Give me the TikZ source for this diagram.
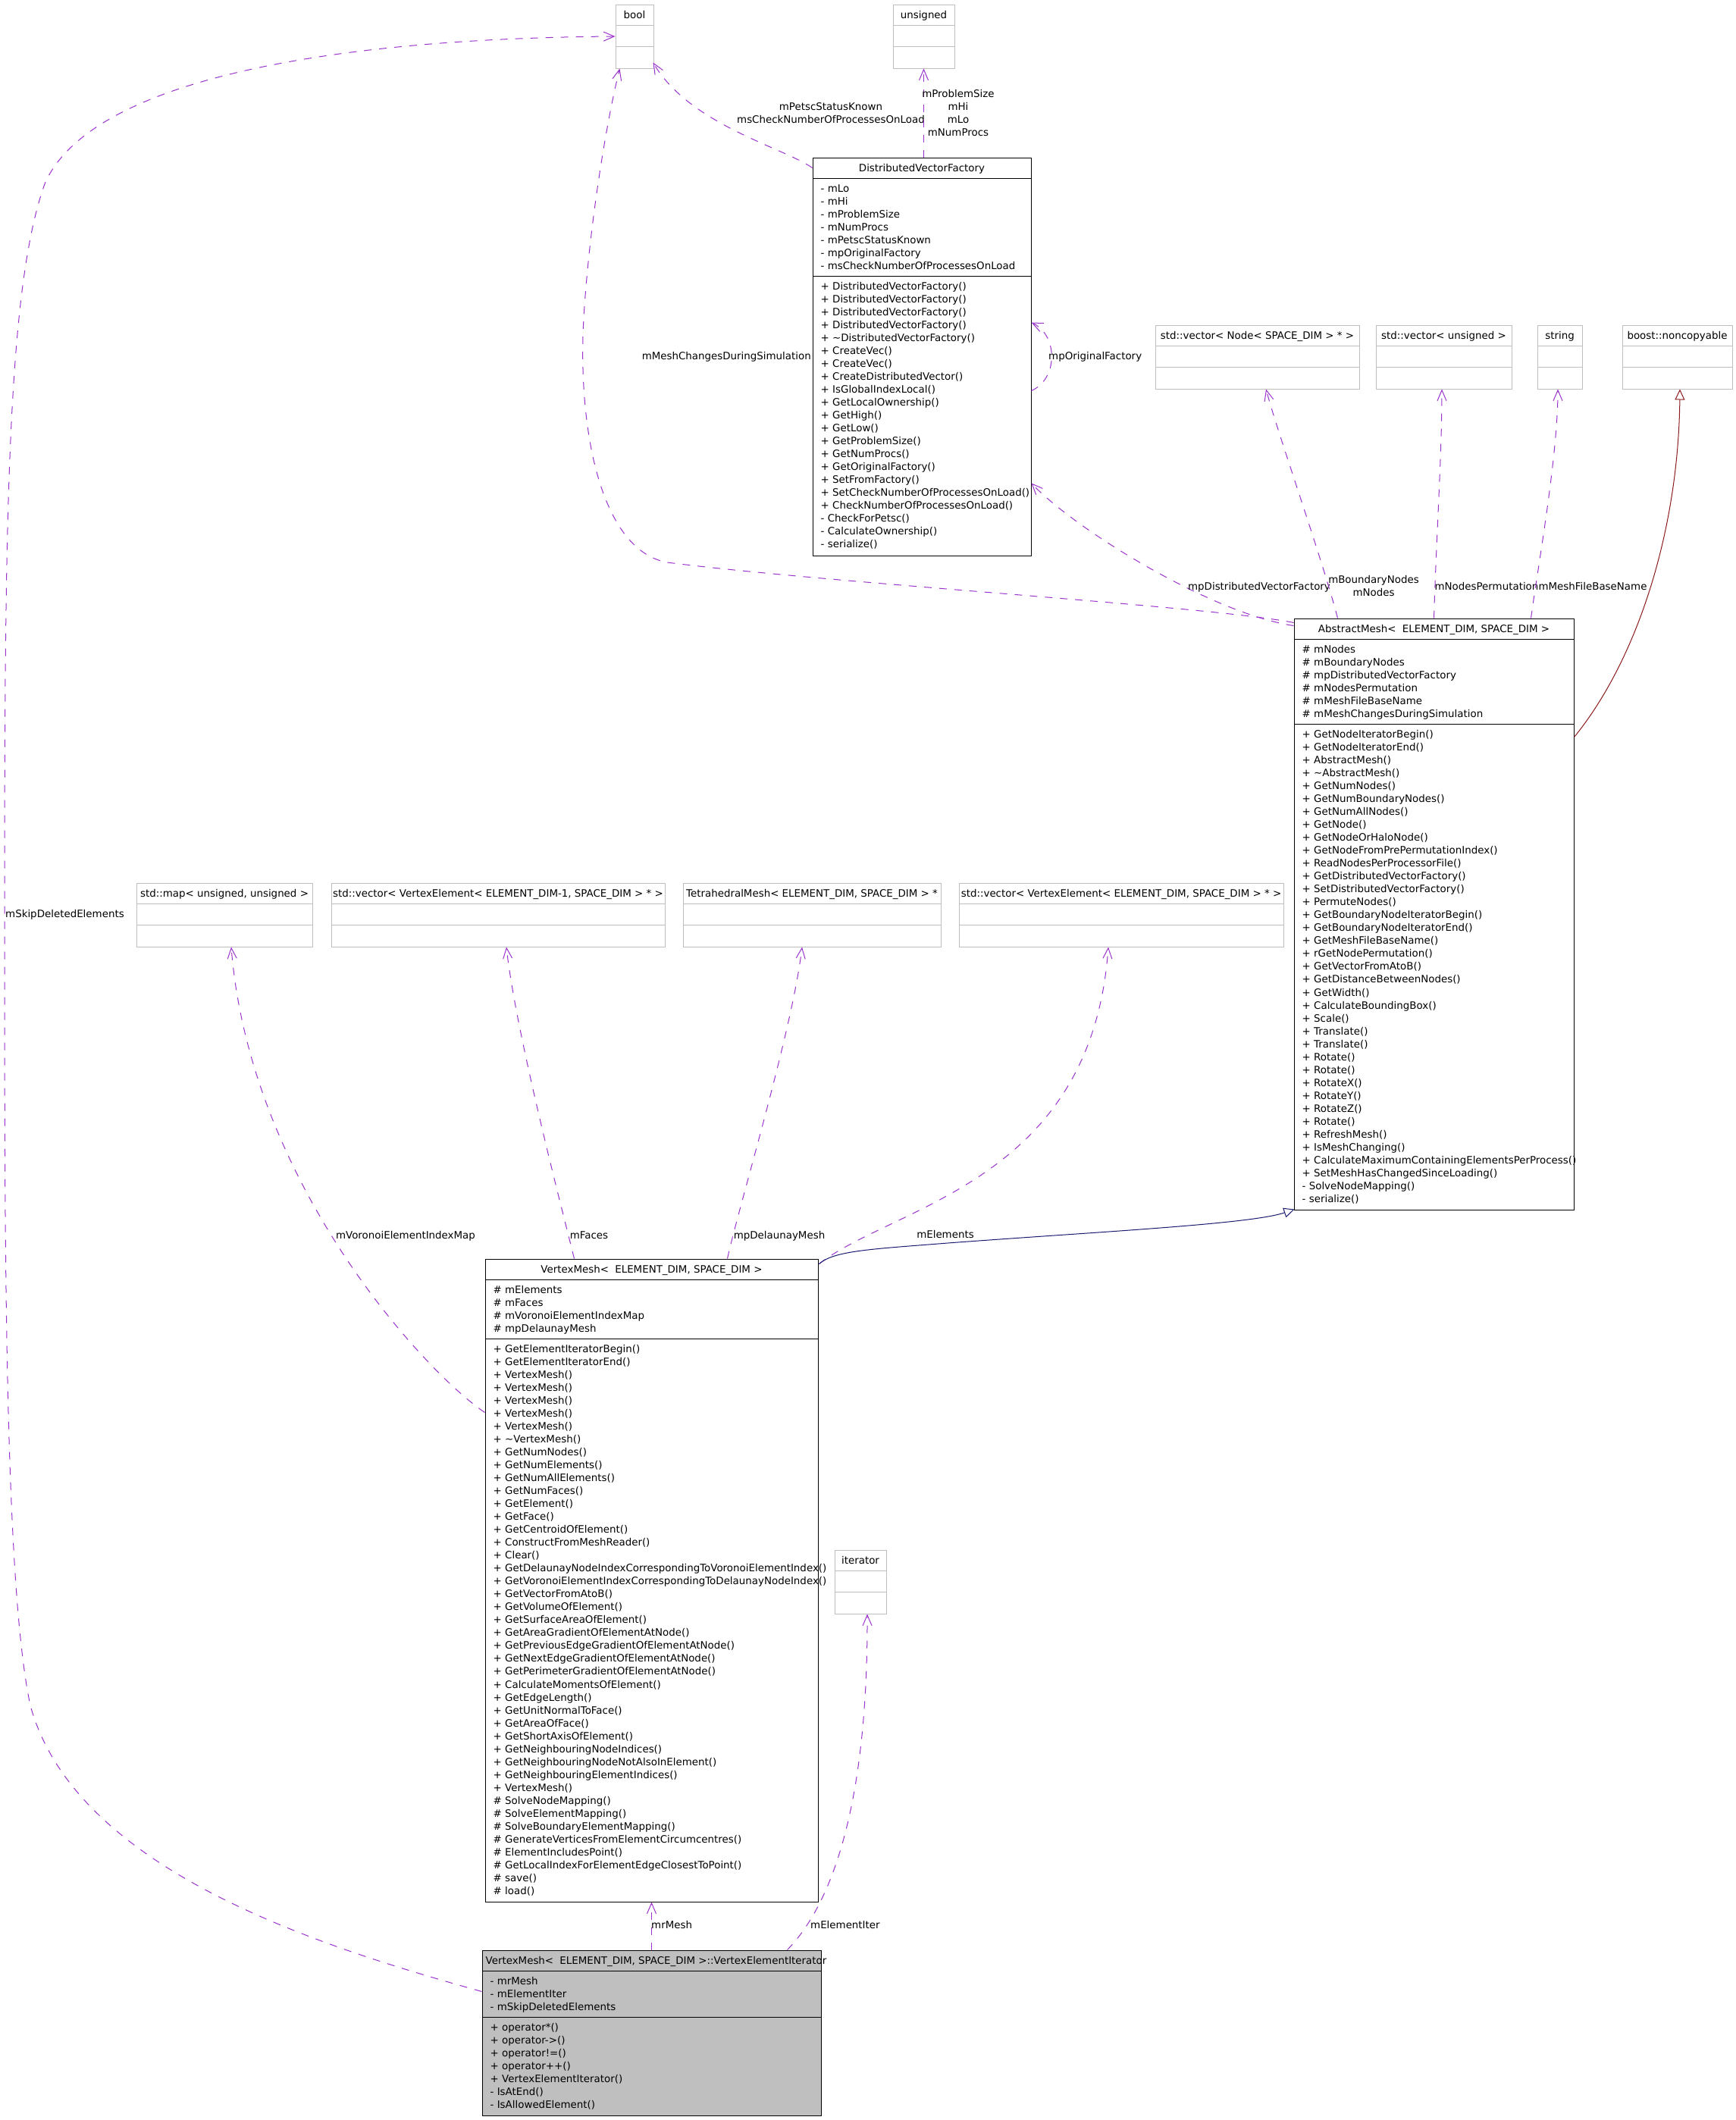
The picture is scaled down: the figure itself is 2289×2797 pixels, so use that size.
\documentclass[tikz,border=0pt]{standalone}
\usepackage{fontspec}
\setmainfont{DejaVu Sans}
\usetikzlibrary{arrows.meta,calc}
\definecolor{edgepurple}{HTML}{9A32CD}
\definecolor{inhblue}{HTML}{191970}
\definecolor{inhred}{HTML}{8B1A1A}
\definecolor{boxgray}{HTML}{BFBFBF}
\newcommand{\dfont}{\fontsize{13.4}{17.03}\selectfont}
\newcommand{\sst}{\rule{0pt}{12.5pt}}
\begin{document}
\begin{tikzpicture}[x=1pt,y=-1pt,
  clsbox/.style={draw=black, line width=1pt, fill=white, inner sep=0pt},
  grybox/.style={draw=boxgray, line width=1pt, fill=white, inner sep=0pt, minimum height=84pt},
  blkline/.style={draw=black, line width=1pt},
  gryline/.style={draw=boxgray, line width=1pt},
  ttl/.style={anchor=base, inner sep=0pt, font=\dfont},
  sec/.style={anchor=north west, inner sep=0pt, align=left, font=\dfont},
  lbl/.style={anchor=base, inner sep=0pt, font=\dfont},
  mlbl/.style={anchor=north, inner sep=0pt, align=center, font=\dfont},
  use/.style={draw=edgepurple, line width=1pt, dash pattern=on 10pt off 10pt, -{Straight Barb[length=14pt,width=12pt]}},
  inh/.style={line width=1pt, -{Triangle[open,length=14pt,width=13pt]}}
]
\fill[white] (0,0) rectangle (2289,2797);
\useasboundingbox (0,0) rectangle (2289,2797);

% ---------- gray (external) boxes ----------
\foreach \nm/\cx/\cy/\w/\t in {
  bool/837/48/50/bool,
  uns/1218.5/48/81/unsigned,
  nodevec/1658.5/471/269/{std::vector< Node< SPACE\_DIM > * >},
  vecuns/1904.5/471/179/{std::vector< unsigned >},
  str/2057.5/471/59/string,
  noncop/2212.5/471/145/{boost::noncopyable},
  map/296/1207/232/{std::map< unsigned, unsigned >},
  vecA/657/1207/440/{std::vector< VertexElement< ELEMENT\_DIM-1, SPACE\_DIM > * >},
  tet/1071/1207/340/{TetrahedralMesh< ELEMENT\_DIM, SPACE\_DIM > *},
  vecB/1479/1207/428/{std::vector< VertexElement< ELEMENT\_DIM, SPACE\_DIM > * >},
  iter/1135/2087/68/iterator}{
  \node[grybox, minimum width=\w pt] (\nm) at (\cx,\cy) {};
  \draw[gryline] ($(\nm.north west)+(0,28)$) -- ($(\nm.north east)+(0,28)$);
  \draw[gryline] ($(\nm.north west)+(0,56)$) -- ($(\nm.north east)+(0,56)$);
  \node[ttl] (\nm-t) at ($(\nm.north)+(0,18.5)$) {\t};
}

% ---------- DistributedVectorFactory ----------
\node[clsbox, minimum width=288pt, minimum height=525pt] (dvf) at (1216,470.5) {};
\draw[blkline] ($(dvf.north west)+(0,28)$) -- ($(dvf.north east)+(0,28)$);
\draw[blkline] ($(dvf.north west)+(0,157)$) -- ($(dvf.north east)+(0,157)$);
\node[ttl] (dvf-t) at ($(dvf.north)+(0,18.5)$) {DistributedVectorFactory};
\node[sec] (dvf-a) at ($(dvf.north west)+(11,33)$) {\sst- mLo\\- mHi\\- mProblemSize\\- mNumProcs\\- mPetscStatusKnown\\- mpOriginalFactory\\- msCheckNumberOfProcessesOnLoad};
\node[sec] (dvf-m) at ($(dvf.north west)+(11,162)$) {\sst+ DistributedVectorFactory()\\+ DistributedVectorFactory()\\+ DistributedVectorFactory()\\+ DistributedVectorFactory()\\+ \textasciitilde DistributedVectorFactory()\\+ CreateVec()\\+ CreateVec()\\+ CreateDistributedVector()\\+ IsGlobalIndexLocal()\\+ GetLocalOwnership()\\+ GetHigh()\\+ GetLow()\\+ GetProblemSize()\\+ GetNumProcs()\\+ GetOriginalFactory()\\+ SetFromFactory()\\+ SetCheckNumberOfProcessesOnLoad()\\+ CheckNumberOfProcessesOnLoad()\\- CheckForPetsc()\\- CalculateOwnership()\\- serialize()};

% ---------- AbstractMesh ----------
\node[clsbox, minimum width=369pt, minimum height=780pt] (am) at (1891.5,1206) {};
\draw[blkline] ($(am.north west)+(0,28)$) -- ($(am.north east)+(0,28)$);
\draw[blkline] ($(am.north west)+(0,140.2)$) -- ($(am.north east)+(0,140.2)$);
\node[ttl] (am-t) at ($(am.north)+(0,18.5)$) {AbstractMesh<\hspace{4pt} ELEMENT\_DIM, SPACE\_DIM >};
\node[sec] (am-a) at ($(am.north west)+(11,33)$) {\sst\# mNodes\\\# mBoundaryNodes\\\# mpDistributedVectorFactory\\\# mNodesPermutation\\\# mMeshFileBaseName\\\# mMeshChangesDuringSimulation};
\node[sec] (am-m) at ($(am.north west)+(11,145.2)$) {\sst+ GetNodeIteratorBegin()\\+ GetNodeIteratorEnd()\\+ AbstractMesh()\\+ \textasciitilde AbstractMesh()\\+ GetNumNodes()\\+ GetNumBoundaryNodes()\\+ GetNumAllNodes()\\+ GetNode()\\+ GetNodeOrHaloNode()\\+ GetNodeFromPrePermutationIndex()\\+ ReadNodesPerProcessorFile()\\+ GetDistributedVectorFactory()\\+ SetDistributedVectorFactory()\\+ PermuteNodes()\\+ GetBoundaryNodeIteratorBegin()\\+ GetBoundaryNodeIteratorEnd()\\+ GetMeshFileBaseName()\\+ rGetNodePermutation()\\+ GetVectorFromAtoB()\\+ GetDistanceBetweenNodes()\\+ GetWidth()\\+ CalculateBoundingBox()\\+ Scale()\\+ Translate()\\+ Translate()\\+ Rotate()\\+ Rotate()\\+ RotateX()\\+ RotateY()\\+ RotateZ()\\+ Rotate()\\+ RefreshMesh()\\+ IsMeshChanging()\\+ CalculateMaximumContainingElementsPerProcess()\\+ SetMeshHasChangedSinceLoading()\\- SolveNodeMapping()\\- serialize()};

% ---------- VertexMesh ----------
\node[clsbox, minimum width=439pt, minimum height=848pt] (vm) at (859.5,2085) {};
\draw[blkline] ($(vm.north west)+(0,28)$) -- ($(vm.north east)+(0,28)$);
\draw[blkline] ($(vm.north west)+(0,106)$) -- ($(vm.north east)+(0,106)$);
\node[ttl] (vm-t) at ($(vm.north)+(0,18.5)$) {VertexMesh<\hspace{4pt} ELEMENT\_DIM, SPACE\_DIM >};
\node[sec] (vm-a) at ($(vm.north west)+(11,33)$) {\sst\# mElements\\\# mFaces\\\# mVoronoiElementIndexMap\\\# mpDelaunayMesh};
\node[sec] (vm-m) at ($(vm.north west)+(11,111)$) {\sst+ GetElementIteratorBegin()\\+ GetElementIteratorEnd()\\+ VertexMesh()\\+ VertexMesh()\\+ VertexMesh()\\+ VertexMesh()\\+ VertexMesh()\\+ \textasciitilde VertexMesh()\\+ GetNumNodes()\\+ GetNumElements()\\+ GetNumAllElements()\\+ GetNumFaces()\\+ GetElement()\\+ GetFace()\\+ GetCentroidOfElement()\\+ ConstructFromMeshReader()\\+ Clear()\\+ GetDelaunayNodeIndexCorrespondingToVoronoiElementIndex()\\+ GetVoronoiElementIndexCorrespondingToDelaunayNodeIndex()\\+ GetVectorFromAtoB()\\+ GetVolumeOfElement()\\+ GetSurfaceAreaOfElement()\\+ GetAreaGradientOfElementAtNode()\\+ GetPreviousEdgeGradientOfElementAtNode()\\+ GetNextEdgeGradientOfElementAtNode()\\+ GetPerimeterGradientOfElementAtNode()\\+ CalculateMomentsOfElement()\\+ GetEdgeLength()\\+ GetUnitNormalToFace()\\+ GetAreaOfFace()\\+ GetShortAxisOfElement()\\+ GetNeighbouringNodeIndices()\\+ GetNeighbouringNodeNotAlsoInElement()\\+ GetNeighbouringElementIndices()\\+ VertexMesh()\\\# SolveNodeMapping()\\\# SolveElementMapping()\\\# SolveBoundaryElementMapping()\\\# GenerateVerticesFromElementCircumcentres()\\\# ElementIncludesPoint()\\\# GetLocalIndexForElementEdgeClosestToPoint()\\\# save()\\\# load()};

% ---------- VertexElementIterator ----------
\node[clsbox, fill=boxgray, minimum width=447pt, minimum height=218pt] (vei) at (859.5,2682) {};
\draw[blkline] ($(vei.north west)+(0,28)$) -- ($(vei.north east)+(0,28)$);
\draw[blkline] ($(vei.north west)+(0,89)$) -- ($(vei.north east)+(0,89)$);
\node[ttl] (vei-t) at ($(vei.north)+(6,18.5)$) {VertexMesh<\hspace{4pt} ELEMENT\_DIM, SPACE\_DIM >::VertexElementIterator};
\node[sec] (vei-a) at ($(vei.north west)+(11,33)$) {\sst- mrMesh\\- mElementIter\\- mSkipDeletedElements};
\node[sec] (vei-m) at ($(vei.north west)+(11,94)$) {\sst+ operator*()\\+ operator->()\\+ operator!=()\\+ operator++()\\+ VertexElementIterator()\\- IsAtEnd()\\- IsAllowedElement()};

% ---------- connectors ----------
% DistributedVectorFactory -> bool
\draw[use] ($(dvf.north west)+(0,14)$) .. controls (1035,195) and (910,165) .. ($(bool.south east)+(-1,-8)$);
\node[mlbl] (l-petsc) at (1096,132.5) {\sst mPetscStatusKnown\\msCheckNumberOfProcessesOnLoad};
% DistributedVectorFactory -> unsigned
\draw[use] (uns.south |- dvf.north) -- (uns.south);
\node[mlbl] (l-uns) at (1264,115.5) {\sst mProblemSize\\mHi\\mLo\\mNumProcs};
% self loop
\draw[use] ($(dvf.north east)+(0,308)$) .. controls (1396,500) and (1396,442) .. ($(dvf.north east)+(0,218)$);
\node[lbl, anchor=base west] (l-orig) at (1383,474) {mpOriginalFactory};
% AbstractMesh -> bool
\draw[use] ($(am.north west)+(0,6)$) .. controls (1600,800) and (1100,770) .. (880,742)
   .. controls (790,725) and (762,560) .. (770,420)
   .. controls (777,300) and (800,160) .. ($(bool.south west)+(6,0)$);
\node[lbl, anchor=base east] (l-chg) at (1070,474) {mMeshChangesDuringSimulation};
% AbstractMesh -> DistributedVectorFactory
\draw[use] ($(am.north west)+(0,10)$) .. controls (1600,810) and (1420,700) .. ($(dvf.north east)+(0,430)$);
\node[lbl] (l-dvf) at (1661,778) {mpDistributedVectorFactory};
% AbstractMesh -> std::vector<Node>
\draw[use] ($(am.north west)+(58,0)$) .. controls (1745,740) and (1685,570) .. ($(nodevec.south)+(11.5,0)$);
\node[mlbl] (l-nodes) at (1812,756.5) {\sst mBoundaryNodes\\mNodes};
% AbstractMesh -> std::vector<unsigned>
\draw[use] ($(am.north west)+(185,0)$) .. controls (1895,700) and (1902,600) .. ($(vecuns.south)+(-2.5,0)$);
\node[lbl] (l-perm) at (1961,778) {mNodesPermutation};
% AbstractMesh -> string
\draw[use] ($(am.north west)+(313,0)$) .. controls (2030,740) and (2055,600) .. ($(str.south)+(-2.5,0)$);
\node[lbl] (l-file) at (2101,778) {mMeshFileBaseName};
% AbstractMesh -> boost::noncopyable (inheritance)
\draw[inh, draw=inhred] ($(am.north east)+(0,157)$) .. controls (2160,870) and (2214,700) .. ($(noncop.south)+(3.5,0)$);

% VertexMesh -> std::map
\draw[use] ($(vm.north west)+(0,203)$) .. controls (560,1810) and (330,1560) .. ($(map.south)+(9,0)$);
\node[lbl] (l-vor) at (535,1634) {mVoronoiElementIndexMap};
% VertexMesh -> vector faces
\draw[use] ($(vm.north west)+(118,0)$) .. controls (740,1590) and (680,1360) .. ($(vecA.south)+(11,0)$);
\node[lbl] (l-faces) at (777,1634) {mFaces};
% VertexMesh -> TetrahedralMesh
\draw[use] ($(vm.north west)+(320,0)$) .. controls (975,1590) and (1045,1360) .. ($(tet.south)+(-13,0)$);
\node[lbl] (l-del) at (1028,1634) {mpDelaunayMesh};
% VertexMesh -> vector elements
\draw[use] ($(vm.north east)+(1,7)$) .. controls (1180,1590) and (1440,1560) .. ($(vecB.south)+(-17,0)$);
\node[lbl] (l-elem) at (1247,1633) {mElements};
% VertexMesh -> AbstractMesh (inheritance)
\draw[inh, draw=inhblue] ($(vm.north east)+(1,7)$) .. controls (1100,1650) and (1150,1648) .. (1250,1640)
   .. controls (1450,1625) and (1650,1615) .. ($(am.south west)+(1,-1)$);

% VertexElementIterator -> VertexMesh
\draw[use] (vei.north) -- (vm.south);
\node[lbl, anchor=base west] (l-mr) at (859,2544) {mrMesh};
% VertexElementIterator -> iterator
\draw[use] ($(vei.north west)+(403,0)$) .. controls (1090,2520) and (1145,2400) .. ($(iter.south)+(9,0)$);
\node[lbl, anchor=base west] (l-it) at (1069,2544) {mElementIter};
% VertexElementIterator -> bool
\draw[use] ($(vei.north west)+(0,55)$) .. controls (430,2570) and (100,2470) .. (40,2250)
   .. controls (8,2100) and (6,1700) .. (6,1250)
   .. controls (6,700) and (8,380) .. (60,240)
   .. controls (130,90) and (500,50) .. (bool.west);
\node[lbl, anchor=base west] (l-skip) at (7,1210) {mSkipDeletedElements};
\end{tikzpicture}
\end{document}
